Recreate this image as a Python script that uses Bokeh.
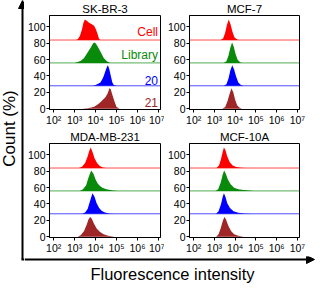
import numpy as np
from bokeh.plotting import figure
from bokeh.layouts import row, column
from bokeh.models import Range1d, FixedTicker, Span, Label, Arrow, NormalHead
from bokeh.embed import file_html
from bokeh.resources import INLINE

# ---------------- data ----------------
PANELS = ["SK-BR-3", "MCF-7", "MDA-MB-231", "MCF-10A"]
SERIES = ["Cell", "Library", "20", "21"]
YTICKS = [0, 20, 40, 60, 80, 100]
XTICK_EXP = [2, 3, 4, 5, 6, 7]
XTICK_LABELS = ["10\u00b2", "10\u00b3", "10\u2074", "10\u2075", "10\u2076", "10\u2077"]
Y_LABEL = "Count (%)"
X_LABEL = "Fluorescence intensity"

# log10(intensity) and count (%) for each histogram
skbr3_cell_x = [3.05, 3.15, 3.25, 3.35, 3.42, 3.49, 3.58, 3.69, 3.8, 3.93, 4.02, 4.1, 4.16, 4.22]
skbr3_cell_y = [0, 1, 5, 13, 21, 25, 23.5, 21, 19.5, 17.5, 13, 7, 2, 0]
skbr3_lib_x = [3.0, 3.15, 3.3, 3.45, 3.61, 3.77, 3.87, 3.93, 4.0, 4.08, 4.23, 4.39, 4.54, 4.7]
skbr3_lib_y = [0, 1, 2.5, 6, 12.5, 19, 23.5, 25, 24, 21, 14, 6, 2, 0]
skbr3_20_x = [3.85, 4.0, 4.12, 4.23, 4.32, 4.39, 4.47, 4.54, 4.59, 4.65, 4.73, 4.8, 4.87, 5.0]
skbr3_20_y = [0, 1, 2.5, 4, 8, 12, 18, 23, 25, 21, 12, 4, 1, 0]
skbr3_21_x = [3.35, 3.6, 3.8, 3.93, 4.1, 4.23, 4.35, 4.47, 4.58, 4.66, 4.72, 4.8, 4.9, 5.0, 5.15]
skbr3_21_y = [0, 0.5, 1.5, 2.5, 5, 8, 11, 14, 19, 25, 24, 17, 9, 2, 0]

mcf7_cell_x = [3.3, 3.42, 3.52, 3.6, 3.69, 3.78, 3.87, 3.97, 4.1, 4.2]
mcf7_cell_y = [0, 2, 9, 18, 25, 19, 10, 3, 0.5, 0]
mcf7_lib_x = [3.45, 3.58, 3.68, 3.76, 3.85, 3.93, 4.02, 4.12, 4.25, 4.35]
mcf7_lib_y = [0, 2, 9, 18, 25, 20, 11, 4, 0.5, 0]
mcf7_20_x = [3.45, 3.58, 3.68, 3.77, 3.86, 3.95, 4.05, 4.15, 4.28, 4.4]
mcf7_20_y = [0, 2, 9, 19, 25, 20, 11, 4, 1, 0]
mcf7_21_x = [3.38, 3.52, 3.63, 3.73, 3.82, 3.91, 4.0, 4.1, 4.22, 4.32]
mcf7_21_y = [0, 2, 9, 18, 25, 20, 11, 4, 1, 0]

mda_cell_x = [3.2, 3.35, 3.5, 3.62, 3.7, 3.77, 3.85, 3.95, 4.07, 4.2, 4.35, 4.5]
mda_cell_y = [0, 1.5, 6, 14, 21, 25, 20, 12, 6, 2.5, 0.5, 0]
mda_lib_x = [3.25, 3.4, 3.55, 3.67, 3.79, 3.9, 4.0, 4.1, 4.21, 4.35, 4.52, 4.75, 5.05]
mda_lib_y = [0, 2, 7, 17, 25, 21, 14, 9, 6, 3.5, 2, 0.8, 0]
mda_20_x = [3.35, 3.5, 3.62, 3.74, 3.85, 3.95, 4.05, 4.17, 4.3, 4.45, 4.65, 4.9]
mda_20_y = [0, 1.5, 6, 16, 25, 21, 13, 7, 3.5, 1.5, 0.5, 0]
mda_21_x = [3.15, 3.3, 3.45, 3.58, 3.66, 3.74, 3.82, 3.92, 4.05, 4.2, 4.38, 4.6, 4.9]
mda_21_y = [0, 2, 7, 15, 21, 24, 22, 16, 10, 6, 3, 1, 0]

mcf10a_cell_x = [3.1, 3.22, 3.32, 3.4, 3.46, 3.53, 3.62, 3.74, 3.88, 4.05, 4.3, 4.55]
mcf10a_cell_y = [0, 3, 11, 20, 25, 22, 14, 7, 3, 1.2, 0.4, 0]
mcf10a_lib_x = [3.05, 3.18, 3.3, 3.4, 3.47, 3.55, 3.65, 3.78, 3.95, 4.15, 4.4, 4.65, 4.9]
mcf10a_lib_y = [0, 2, 10, 20, 25, 21, 14, 8, 4, 2, 1, 0.4, 0]
mcf10a_20_x = [3.08, 3.2, 3.32, 3.4, 3.46, 3.53, 3.62, 3.75, 3.92, 4.15, 4.45, 4.8]
mcf10a_20_y = [0, 3, 12, 21, 25, 21, 13, 7, 3, 1.2, 0.5, 0]
mcf10a_21_x = [3.08, 3.2, 3.3, 3.4, 3.48, 3.56, 3.66, 3.8, 3.95, 4.15, 4.4]
mcf10a_21_y = [0, 3, 10, 19, 24, 21, 14, 7, 3, 1, 0]

CURVES = {
    "SK-BR-3": [(skbr3_cell_x, skbr3_cell_y), (skbr3_lib_x, skbr3_lib_y),
                (skbr3_20_x, skbr3_20_y), (skbr3_21_x, skbr3_21_y)],
    "MCF-7": [(mcf7_cell_x, mcf7_cell_y), (mcf7_lib_x, mcf7_lib_y),
              (mcf7_20_x, mcf7_20_y), (mcf7_21_x, mcf7_21_y)],
    "MDA-MB-231": [(mda_cell_x, mda_cell_y), (mda_lib_x, mda_lib_y),
                   (mda_20_x, mda_20_y), (mda_21_x, mda_21_y)],
    "MCF-10A": [(mcf10a_cell_x, mcf10a_cell_y), (mcf10a_lib_x, mcf10a_lib_y),
                (mcf10a_20_x, mcf10a_20_y), (mcf10a_21_x, mcf10a_21_y)],
}

# ---------------- style ----------------
COLORS = ["#ff0000", "#0a8a0a", "#0000ff", "#9e2626"]
OFFSETS = [84, 56, 28, 0]
FONT = "Liberation Sans"


def make_panel(name, width, height, mbl, mbr, mbt, mbb, show_names):
    p = figure(width=width, height=height, x_axis_type="log",
               x_range=Range1d(10 ** 1.8, 10 ** 7.1), y_range=Range1d(-1, 114),
               output_backend="svg", toolbar_location=None,
               min_border_left=mbl, min_border_right=mbr,
               min_border_top=mbt, min_border_bottom=mbb)
    p.title.text = name
    p.title.align = "center"
    p.title.text_font = FONT
    p.title.text_font_size = "11.5px"
    p.title.text_font_style = "normal"
    p.title.text_color = "black"
    try:
        p.title.standoff = 1
    except Exception:
        pass
    p.grid.visible = False
    p.outline_line_color = "black"
    p.outline_line_width = 1
    p.background_fill_color = "white"
    p.border_fill_color = "white"

    for (xs, ys), col, off, s in zip(CURVES[name], COLORS, OFFSETS, SERIES):
        xv = 10 ** np.asarray(xs, dtype=float)
        yv = np.asarray(ys, dtype=float)
        p.varea(x=xv, y1=np.full(len(xv), off, dtype=float), y2=off + yv,
                fill_color=col, fill_alpha=1.0)
        if off > 0:
            p.add_layout(Span(location=off, dimension="width", line_color=col,
                              line_width=1, line_alpha=0.7))
        if show_names:
            p.add_layout(Label(x=10 ** 6.98, y=off + 1.5, text=s, text_align="right",
                               text_baseline="bottom", text_color=col,
                               text_font=FONT, text_font_size="12px"))

    p.xaxis.ticker = FixedTicker(ticks=[10.0 ** e for e in XTICK_EXP])
    ov = {}
    for e, lab in zip(XTICK_EXP, XTICK_LABELS):
        ov[float(10 ** e)] = lab
    p.xaxis.major_label_overrides = ov
    p.yaxis.ticker = FixedTicker(ticks=YTICKS)
    for ax in (p.xaxis, p.yaxis):
        ax.axis_line_color = "black"
        ax.major_tick_line_color = "black"
        ax.major_tick_out = 3
        ax.major_tick_in = 0
        ax.minor_tick_line_color = None
        ax.major_label_standoff = 1
        ax.major_label_text_font = FONT
        ax.major_label_text_font_size = "10.5px"
        ax.major_label_text_color = "black"
    return p


p1 = make_panel(PANELS[0], 140, 128, 22, 4, 12, 16, True)
p2 = make_panel(PANELS[1], 151, 128, 22, 16, 12, 16, False)
p3 = make_panel(PANELS[2], 140, 128, 22, 4, 12, 16, False)
p4 = make_panel(PANELS[3], 151, 128, 22, 16, 12, 16, False)

# left strip: y arrow and label
left = figure(width=24, height=283, x_range=Range1d(0, 24), y_range=Range1d(283, 0),
              x_axis_type=None, y_axis_type=None, min_border=0,
              output_backend="svg", toolbar_location=None)
left.grid.visible = False
left.outline_line_color = None
left.add_layout(Arrow(end=NormalHead(size=8, fill_color="black", line_color="black"),
                      x_start=22, y_start=259, x_end=22, y_end=0,
                      line_width=2, line_color="black"))
left.segment(x0=[21], y0=[259], x1=[24], y1=[259], line_width=2, line_color="black")
left.add_layout(Label(x=9, y=128, text=Y_LABEL, angle=np.pi / 2, text_align="center",
                      text_baseline="middle", text_font=FONT, text_font_size="17px",
                      text_color="black"))

# bottom strip: x arrow and label
bottom = figure(width=291, height=27, x_range=Range1d(0, 291), y_range=Range1d(27, 0),
                x_axis_type=None, y_axis_type=None, min_border=0,
                output_backend="svg", toolbar_location=None)
bottom.grid.visible = False
bottom.outline_line_color = None
bottom.add_layout(Arrow(end=NormalHead(size=8, fill_color="black", line_color="black"),
                        x_start=0, y_start=3, x_end=290, y_end=3,
                        line_width=2, line_color="black"))
bottom.add_layout(Label(x=148, y=8, text=X_LABEL, text_align="center",
                        text_baseline="top", text_font=FONT, text_font_size="16.5px",
                        text_color="black"))

layout = row(left, column(row(p1, p2), row(p3, p4), bottom))

open("out.html", "w").write(file_html(layout, INLINE))
